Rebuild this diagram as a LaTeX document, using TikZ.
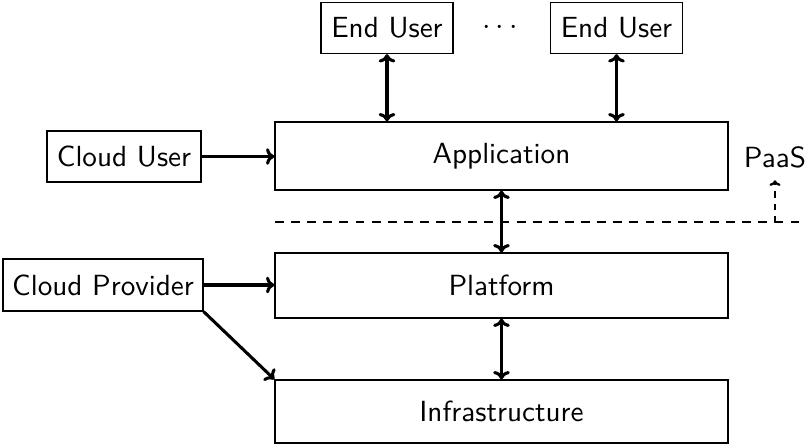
\documentclass[tikz,border=0pt]{standalone}
\usetikzlibrary{arrows.meta}
\begin{document}
\begin{tikzpicture}[x=0.36pt,y=-0.36pt,
  font=\sffamily\fontsize{10.5}{12.5}\selectfont,
  box/.style={draw, line width=0.45pt, inner sep=0pt, minimum height=18.4pt},
  layer/.style={box, minimum width=163.1pt},
  link/.style={line width=1.1pt, -{To[length=3pt,width=6pt]}},
  dlink/.style={line width=1.1pt, {To[length=3pt,width=6pt]}-{To[length=3pt,width=6pt]}}]
\useasboundingbox (0,0) rectangle (807,446);

% service layers
\node[layer, minimum height=24.5pt] (app) at (501.5,156) {Application};
\node[layer, minimum height=23.4pt] (plat) at (501.5,285.5) {Platform};
\node[layer, minimum height=22.7pt] (infra) at (501.5,411.5) {Infrastructure};

% actors
\node[box, minimum width=47.5pt] (eu1) at (387,28) {End User};
\node[box, minimum width=47.5pt] (eu2) at (616.5,28) {End User};
\node (dots) at (500,28) {$\cdots$};
\node[box, minimum width=55.4pt] (cu) at (124,156.5) {Cloud User};
\node[box, minimum width=72pt, minimum height=18.7pt] (cp) at (103,285) {Cloud Provider};
\node (paas) at (775,157) {PaaS};

% PaaS boundary
\coordinate (dl) at (275,222);
\coordinate (dr) at (807,222);
\coordinate (dp) at (paas.south |- dl);
\draw[line width=0.8pt, dash pattern=on 3.2pt off 2.6pt] (dl) -- (dr);
\draw[line width=0.8pt, dash pattern=on 2.2pt off 2.2pt, -{To[length=2pt,width=4pt]}] (dp) -- ([yshift=-1pt]paas.south);

% connections
\draw[dlink] (eu1.south) -- (eu1.south |- app.north);
\draw[dlink] (eu2.south) -- (eu2.south |- app.north);
\draw[link] (cu.east) -- (cu.east -| app.west);
\draw[dlink] (app.south) -- (plat.north);
\draw[dlink] (plat.south) -- (infra.north);
\draw[link] (cp.east) -- (cp.east -| plat.west);
\draw[link] (cp.south east) -- (infra.north west);
\end{tikzpicture}
\end{document}
